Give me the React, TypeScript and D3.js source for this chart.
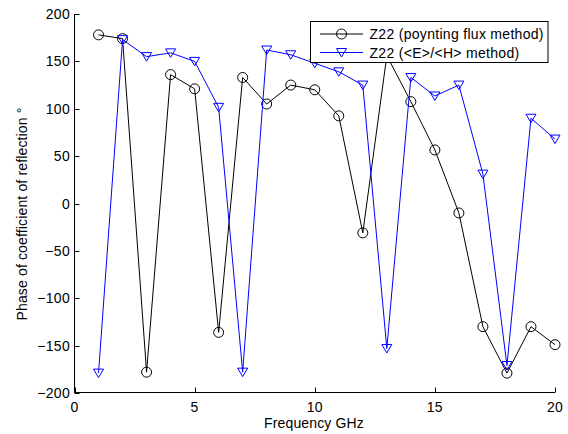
import React from "react";
import * as d3 from "d3";

const freqs = [1, 2, 3, 4, 5, 6, 7, 8, 9, 10, 11, 12, 13, 14, 15, 16, 17, 18, 19, 20];
const poynting = [178, 174, -178, 136, 121, -136, 133, 105, 125, 120, 92.5, -31, 156, 107.5, 56.5, -10, -130, -179, -130, -149];
const ehRatio = [-179, 173, 155, 159, 150, 101.5, -178, 162, 157, 148, 139, 125, -153, 133, 113.5, 125, 31, -171, 90, 68];
const xTicks = [0, 5, 10, 15, 20];
const yTicks = [-200, -150, -100, -50, 0, 50, 100, 150, 200];
const seriesNames = ["Z22 (poynting flux method)", "Z22 (<E>/<H> method)"];

const W = 568, H = 434;
const FONT = "'Liberation Sans', Arial, sans-serif";

export default function App() {
  const x = d3.scaleLinear().domain([0, 20]).range([74.5, 555]);
  const y = d3.scaleLinear().domain([-200, 200]).range([393, 14]);
  const line = d3.line<number>().x((_, i) => x(freqs[i])).y((d) => y(d));
  const fmt = (v: number) => (v < 0 ? "\u2212" + Math.abs(v) : String(v));

  const circle = (cx: number, cy: number, color: string, key: any) => (
    <circle key={key} cx={cx} cy={cy} r={5} fill="none" stroke={color} strokeWidth={1} />
  );
  const tri = (cx: number, cy: number, color: string, key: any) => (
    <path key={key} d={`M${cx - 5},${cy - 4}L${cx + 5},${cy - 4}L${cx},${cy + 4.5}Z`} fill="none" stroke={color} strokeWidth={1} />
  );

  const lx0 = 320, lx1 = 363, lmid = (lx0 + lx1) / 2;
  const ly1 = 34, ly2 = 52.5;

  return (
    <svg width={W} height={H} style={{ position: "absolute", left: 0, top: 0, background: "#fff" }} fontFamily={FONT}>
      <rect width={W} height={H} fill="#fff" />
      {/* series */}
      <path d={line(poynting) || ""} fill="none" stroke="#000" strokeWidth={1} />
      {poynting.map((v, i) => circle(x(freqs[i]), y(v), "#000", "c" + i))}
      <path d={line(ehRatio) || ""} fill="none" stroke="#0000ff" strokeWidth={1} />
      {ehRatio.map((v, i) => tri(x(freqs[i]), y(v), "#0000ff", "t" + i))}

      {/* axes */}
      <line x1={74.5} x2={74.5} y1={14} y2={393} stroke="#000" strokeWidth={1} />
      <line x1={74.5} x2={555} y1={392.5} y2={392.5} stroke="#000" strokeWidth={1} />
      {yTicks.map((t) => (
        <g key={"y" + t}>
          <line x1={74.5} x2={79.5} y1={Math.round(y(t)) + 0.5} y2={Math.round(y(t)) + 0.5} stroke="#000" />
          <text x={70} y={y(t) + 5} textAnchor="end" fontSize={14} letterSpacing={0.3}>{fmt(t)}</text>
        </g>
      ))}
      {xTicks.map((t) => (
        <g key={"x" + t}>
          <line x1={Math.round(x(t)) + 0.5} x2={Math.round(x(t)) + 0.5} y1={392.5} y2={387.5} stroke="#000" />
          <text x={x(t)} y={411.5} textAnchor="middle" fontSize={14} letterSpacing={0.3}>{fmt(t)}</text>
        </g>
      ))}
      <text x={314} y={428} textAnchor="middle" fontSize={14} letterSpacing={0.15}>Frequency GHz</text>
      <text transform="translate(27,214) rotate(-90)" textAnchor="middle" fontSize={14} letterSpacing={0.15}>Phase of coefficient of reflection °</text>

      {/* legend */}
      <rect x={310.5} y={21.5} width={237.5} height={41} fill="#fff" stroke="#000" strokeWidth={1} />
      <line x1={lx0} x2={lx1} y1={ly1} y2={ly1} stroke="#000" />
      {circle(lmid, ly1, "#000", "lc")}
      <text x={369.5} y={39} fontSize={14} letterSpacing={0.3}>{seriesNames[0]}</text>
      <line x1={lx0} x2={lx1} y1={ly2} y2={ly2} stroke="#0000ff" />
      {tri(lmid, ly2, "#0000ff", "lt")}
      <text x={369.5} y={57.5} fontSize={14} letterSpacing={0.3}>{seriesNames[1]}</text>
    </svg>
  );
}
